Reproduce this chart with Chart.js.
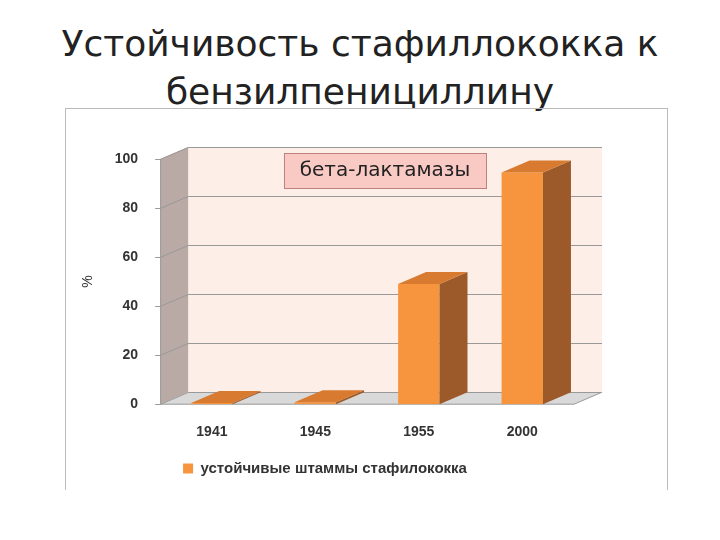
<!DOCTYPE html>
<html>
<head>
<meta charset="utf-8">
<script src="https://cdn.jsdelivr.net/npm/chart.js@4"></script>
<style>
  body { margin: 0; width: 720px; height: 540px; background: #fff; position: relative; overflow: hidden; }
  #title { position: absolute; left: 0; top: 20px; width: 720px; text-align: center;
           font-family: "DejaVu Sans"; font-size: 36px; line-height: 48px; color: #222; }
  #box { position: absolute; left: 65px; top: 108px; width: 603px; height: 382px;
         border: 1px solid #bbb; border-bottom: none; box-sizing: border-box; }
</style>
</head>
<body>
<div id="title">Устойчивость стафиллококка к<br>бензилпенициллину</div>
<div id="box"><canvas id="chart" width="601" height="381"></canvas></div>
<script>
// данные
const years = ['1941', '1945', '1955', '2000'];
const resistant = [0.5, 0.8, 49, 94.5];
const yTicks = [0, 20, 40, 60, 80, 100];

const DX = 28, DY = 12;

const wall3d = {
    id: 'wall3d',
    beforeDatasetsDraw(chart) {
        const c = chart.ctx, a = chart.chartArea, y = chart.scales.y;
        c.save();
        // задняя стена
        c.fillStyle = '#fdeee8';
        c.fillRect(a.left + DX, a.top - DY, a.right - a.left, a.bottom - a.top);
        // левая стена
        c.fillStyle = '#b9aaa6';
        c.beginPath();
        c.moveTo(a.left, a.top); c.lineTo(a.left + DX, a.top - DY);
        c.lineTo(a.left + DX, a.bottom - DY); c.lineTo(a.left, a.bottom);
        c.closePath(); c.fill();
        // пол
        c.fillStyle = '#d9d9d9';
        c.beginPath();
        c.moveTo(a.left, a.bottom); c.lineTo(a.left + DX, a.bottom - DY);
        c.lineTo(a.right + DX, a.bottom - DY); c.lineTo(a.right, a.bottom);
        c.closePath(); c.fill();
        // сетка
        c.strokeStyle = '#999'; c.lineWidth = 1;
        yTicks.forEach(t => {
            const py = Math.round(y.getPixelForValue(t)) + 0.5;
            c.beginPath();
            c.moveTo(a.left - 5, py); c.lineTo(a.left, py);
            c.lineTo(a.left + DX, py - DY); c.lineTo(a.right + DX, py - DY);
            c.stroke();
        });
        c.beginPath();
        c.moveTo(a.left + 0.5, a.top); c.lineTo(a.left + 0.5, a.bottom);
        c.lineTo(a.right, a.bottom); c.lineTo(a.right + DX, a.bottom - DY);
        c.stroke();
        c.restore();
    },
    afterDatasetsDraw(chart) {
        const c = chart.ctx;
        c.save();
        chart.getDatasetMeta(0).data.forEach(b => {
            const l = b.x - b.width / 2, r = b.x + b.width / 2;
            c.fillStyle = '#9c5a2a';
            c.beginPath();
            c.moveTo(r, b.y); c.lineTo(r + DX, b.y - DY);
            c.lineTo(r + DX, b.base - DY); c.lineTo(r, b.base);
            c.closePath(); c.fill();
            c.fillStyle = '#d87a30';
            c.beginPath();
            c.moveTo(l, b.y); c.lineTo(l + DX, b.y - DY);
            c.lineTo(r + DX, b.y - DY); c.lineTo(r, b.y);
            c.closePath(); c.fill();
        });
        // подпись
        c.fillStyle = '#f9c9c4'; c.strokeStyle = '#c08080';
        c.fillRect(218, 44, 202, 35); c.strokeRect(218.5, 44.5, 202, 35);
        c.fillStyle = '#222'; c.font = '20px "DejaVu Sans"';
        c.textAlign = 'center'; c.textBaseline = 'middle';
        c.fillText('бета-лактамазы', 319, 62);
        c.restore();
    }
};

new Chart(document.getElementById('chart').getContext('2d'), {
    type: 'bar',
    data: {
        labels: years,
        datasets: [{
            label: 'устойчивые штаммы стафилококка',
            data: resistant,
            backgroundColor: '#f7953f',
            barPercentage: 0.4,
            categoryPercentage: 1
        }]
    },
    options: {
        responsive: false,
        animation: false,
        layout: { padding: { top: 50, right: 93, left: 10, bottom: 4 } },
        plugins: {
            legend: {
                position: 'bottom',
                labels: { boxWidth: 10, boxHeight: 10, color: '#333', padding: 8,
                          font: { family: 'Liberation Sans', size: 15, weight: 'bold' } }
            },
            tooltip: { enabled: false }
        },
        scales: {
            x: {
                grid: { display: false }, border: { display: false },
                ticks: { color: '#333', padding: 12, font: { family: 'Liberation Sans', size: 14, weight: 'bold' } }
            },
            y: {
                min: 0, max: 100,
                afterBuildTicks: s => { s.ticks = yTicks.map(v => ({ value: v })); },
                grid: { display: false }, border: { display: false },
                title: { display: true, text: '%', color: '#333', font: { family: 'Liberation Sans', size: 14 } },
                ticks: { color: '#333', padding: 14, font: { family: 'Liberation Sans', size: 14, weight: 'bold' } }
            }
        }
    },
    plugins: [wall3d]
});
</script>
</body>
</html>
